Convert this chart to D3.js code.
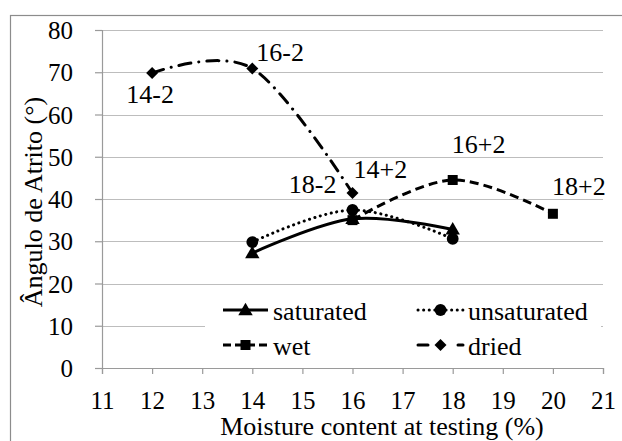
<!DOCTYPE html>
<html>
<head>
<meta charset="utf-8">
<script src="https://cdn.jsdelivr.net/npm/d3@7/dist/d3.min.js"></script>
</head>
<body style="margin:0">
<svg id="chart" width="622" height="441"></svg>
<script>
// Moisture content at testing (%)
const moisture = [12, 14, 16, 18, 20];

// Friction angle (°) for each conditioning series
const saturatedX = [14, 16, 18];
const saturatedY = [27.2, 35.3, 32.8];
const unsaturatedX = [14, 16, 18];
const unsaturatedY = [29.8, 37.4, 30.6];
const wetX = [16, 18, 20];
const wetY = [35.0, 44.5, 36.5];
const driedX = [12, 14, 16];
const driedY = [69.8, 70.9, 41.4];

// Point labels: series, point index, text
const pointLabels = [
  ["dried", 0, "14-2"],
  ["dried", 1, "16-2"],
  ["dried", 2, "18-2"],
  ["wet", 0, "14+2"],
  ["wet", 1, "16+2"],
  ["wet", 2, "18+2"]
];

const xTicks = [11, 12, 13, 14, 15, 16, 17, 18, 19, 20, 21];
const yTicks = [0, 10, 20, 30, 40, 50, 60, 70, 80];

const svg = d3.select("#chart").attr("font-family", "serif");

// Serif text helper
function serif(sel, size) {
  return sel.attr("font-size", size)
    .attr("font-family", "Liberation Serif")
    .style("font-family", "serif")
    .attr("fill", "#000");
}

// Outer chart frame
svg.append("rect")
  .attr("x", 10.5).attr("y", 15.5)
  .attr("width", 700).attr("height", 500)
  .attr("fill", "#fff").attr("stroke", "#8c8c8c").attr("stroke-width", 1.2);

const x = d3.scaleLinear().domain([11, 21]).range([102, 603]);
const y = d3.scaleLinear().domain([0, 80]).range([368, 30]);

// Gridlines
svg.append("g")
  .selectAll("line")
  .data(yTicks.filter(d => d > 0))
  .join("line")
  .attr("x1", x(11)).attr("x2", x(21))
  .attr("y1", d => Math.round(y(d)) + 0.5).attr("y2", d => Math.round(y(d)) + 0.5)
  .attr("stroke", "#bdbdbd").attr("stroke-width", 1.2);

// Y axis
const yAxis = svg.append("g")
  .attr("transform", `translate(${x(11)},0)`)
  .call(d3.axisLeft(y).tickValues(yTicks).tickSize(7).tickPadding(22).tickFormat(d3.format("d")));
yAxis.attr("font-family", "serif");
yAxis.select(".domain").attr("stroke", "#9a9a9a").attr("stroke-width", 1.2);
yAxis.selectAll(".tick line").attr("stroke", "#9a9a9a").attr("stroke-width", 1.2);
serif(yAxis.selectAll("text"), 25).attr("dy", "0.34em");

// X axis
const xAxis = svg.append("g")
  .attr("transform", `translate(0,${y(0)})`)
  .call(d3.axisBottom(x).tickValues(xTicks).tickSize(6).tickFormat(d3.format("d")));
xAxis.attr("font-family", "serif");
xAxis.select(".domain").attr("stroke", "#9a9a9a").attr("stroke-width", 1.2);
xAxis.selectAll(".tick line").attr("stroke", "#9a9a9a").attr("stroke-width", 1.2);
serif(xAxis.selectAll("text"), 25).attr("dy", 0).attr("y", 41);

// Axis titles
serif(svg.append("text"), 26)
  .attr("x", 382).attr("y", 435)
  .attr("text-anchor", "middle")
  .text("Moisture content at testing (%)");
serif(svg.append("text"), 26)
  .attr("transform", "translate(42,202) rotate(-90)")
  .attr("text-anchor", "middle")
  .text("Ângulo de Atrito (°)");

// Series definitions
const series = [
  { key: "saturated", xs: saturatedX, ys: saturatedY, dash: null, marker: "triangle", cap: "butt" },
  { key: "unsaturated", xs: unsaturatedX, ys: unsaturatedY, dash: "0.1,5.5", marker: "circle", cap: "round" },
  { key: "wet", xs: wetX, ys: wetY, dash: "9,5", marker: "square", cap: "butt" },
  { key: "dried", xs: driedX, ys: driedY, dash: "12,8,0.1,8", marker: "diamond", cap: "round" }
];

const line = d3.line()
  .x(d => x(d[0])).y(d => y(d[1]))
  .curve(d3.curveCatmullRom.alpha(0));

const markerPath = {
  triangle: d3.symbol().type(d3.symbolTriangle).size(90)(),
  circle: d3.symbol().type(d3.symbolCircle).size(110)(),
  square: d3.symbol().type(d3.symbolSquare).size(100)(),
  diamond: "M0,-6L6,0L0,6L-6,0Z"
};

// Lines first, then markers on top
series.forEach(s => {
  const pts = s.xs.map((v, i) => [v, s.ys[i]]);
  svg.append("path")
    .datum(pts)
    .attr("d", line)
    .attr("fill", "none")
    .attr("stroke", "#000")
    .attr("stroke-width", 3)
    .attr("stroke-linecap", s.cap)
    .attr("stroke-dasharray", s.dash);
});
series.forEach(s => {
  const pts = s.xs.map((v, i) => [v, s.ys[i]]);
  svg.append("g").selectAll("path")
    .data(pts)
    .join("path")
    .attr("d", markerPath[s.marker])
    .attr("transform", d => `translate(${x(d[0])},${y(d[1]) + (s.marker === "triangle" ? 1 : 0)})`)
    .attr("fill", "#000");
});

// Point labels
const placement = {
  "14-2": { dx: -2, dy: 30, anchor: "middle" },
  "16-2": { dx: 4, dy: -7, anchor: "start" },
  "18-2": { dx: -16, dy: 0, anchor: "end" },
  "14+2": { dx: 1, dy: -42, anchor: "start" },
  "16+2": { dx: 26, dy: -27, anchor: "middle" },
  "18+2": { dx: 26, dy: -19, anchor: "middle" }
};
const byKey = Object.fromEntries(series.map(s => [s.key, s]));
serif(svg.append("g").selectAll("text")
  .data(pointLabels)
  .join("text"), 26)
  .attr("x", d => x(byKey[d[0]].xs[d[1]]) + placement[d[2]].dx)
  .attr("y", d => y(byKey[d[0]].ys[d[1]]) + placement[d[2]].dy)
  .attr("text-anchor", d => placement[d[2]].anchor)
  .text(d => d[2]);

// Legend
const legend = svg.append("g");
legend.append("rect")
  .attr("x", 205).attr("y", 292).attr("width", 396).attr("height", 72)
  .attr("fill", "#fff");
const legendItems = [
  { s: byKey.saturated, lx: 223, ly: 310 },
  { s: byKey.unsaturated, lx: 418, ly: 310 },
  { s: byKey.wet, lx: 223, ly: 345 },
  { s: byKey.dried, lx: 418, ly: 345 }
];
legendItems.forEach(it => {
  const g = legend.append("g");
  g.append("line")
    .attr("x1", it.lx).attr("x2", it.lx + 45)
    .attr("y1", it.ly).attr("y2", it.ly)
    .attr("stroke", "#000").attr("stroke-width", 3)
    .attr("stroke-linecap", it.s.cap)
    .attr("stroke-dasharray", it.s.key === "dried" ? "10,30" : it.s.key === "wet" ? "8,4" : it.s.dash);
  g.append("path")
    .attr("d", markerPath[it.s.marker])
    .attr("transform", `translate(${it.lx + 22.5},${it.ly + (it.s.marker === "triangle" ? 1 : 0)})`)
    .attr("fill", "#000");
  serif(g.append("text"), 26)
    .attr("x", it.lx + 50).attr("y", it.ly + 10)
    .text(it.s.key);
});
</script>
</body>
</html>
